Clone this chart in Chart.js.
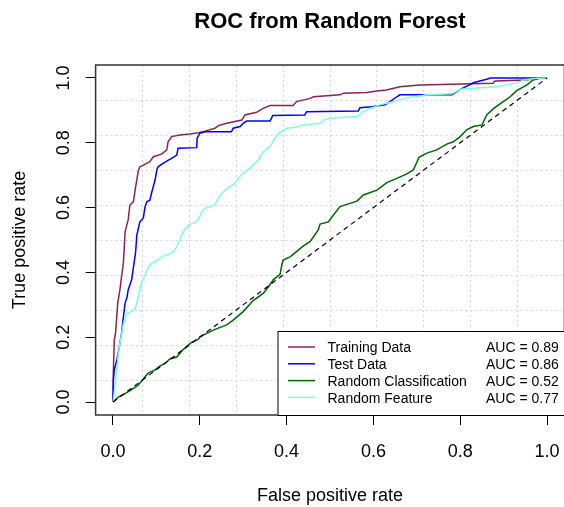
<!DOCTYPE html>
<html>
<head>
<meta charset="utf-8">
<script src="https://cdn.jsdelivr.net/npm/chart.js@4.4.0/dist/chart.umd.min.js"></script>
<style>
  html, body { margin: 0; padding: 0; background: #fff; overflow: hidden; }
  canvas { display: block; }
</style>
</head>
<body>
<canvas id="roc" width="580" height="507"></canvas>
<script>
// ROC curves: false positive rate / true positive rate
const trainFpr = [0, 0.001, 0.003, 0.006, 0.011, 0.016, 0.020, 0.024, 0.028, 0.035, 0.039, 0.047, 0.051, 0.058, 0.062, 0.070, 0.085, 0.093, 0.112, 0.124, 0.127, 0.135, 0.154, 0.177, 0.197, 0.212, 0.235, 0.243, 0.262, 0.297, 0.304, 0.331, 0.346, 0.362, 0.415, 0.423, 0.454, 0.462, 0.523, 0.531, 0.585, 0.608, 0.630, 0.661, 0.707, 0.876, 0.880, 0.953, 0.976, 1];
const trainTpr = [0, 0.099, 0.191, 0.213, 0.306, 0.346, 0.389, 0.429, 0.526, 0.562, 0.608, 0.618, 0.654, 0.711, 0.726, 0.731, 0.742, 0.757, 0.765, 0.778, 0.803, 0.819, 0.824, 0.827, 0.831, 0.836, 0.845, 0.853, 0.860, 0.870, 0.886, 0.894, 0.906, 0.915, 0.915, 0.927, 0.937, 0.942, 0.948, 0.953, 0.955, 0.960, 0.963, 0.973, 0.978, 0.984, 0.991, 0.994, 0.999, 1];

const testFpr = [0, 0.001, 0.003, 0.009, 0.012, 0.020, 0.024, 0.028, 0.032, 0.035, 0.043, 0.047, 0.052, 0.055, 0.062, 0.070, 0.074, 0.078, 0.085, 0.089, 0.093, 0.097, 0.101, 0.104, 0.116, 0.135, 0.147, 0.150, 0.193, 0.194, 0.200, 0.212, 0.273, 0.277, 0.293, 0.300, 0.308, 0.362, 0.368, 0.442, 0.446, 0.565, 0.569, 0.596, 0.627, 0.638, 0.654, 0.661, 0.781, 0.800, 0.819, 0.830, 0.861, 0.869, 1];
const testTpr = [0, 0.068, 0.099, 0.130, 0.151, 0.213, 0.263, 0.306, 0.321, 0.346, 0.377, 0.414, 0.460, 0.515, 0.556, 0.568, 0.603, 0.618, 0.623, 0.645, 0.665, 0.685, 0.716, 0.726, 0.737, 0.752, 0.762, 0.783, 0.785, 0.814, 0.829, 0.834, 0.834, 0.845, 0.850, 0.860, 0.867, 0.867, 0.884, 0.886, 0.896, 0.898, 0.908, 0.911, 0.917, 0.927, 0.942, 0.948, 0.948, 0.965, 0.977, 0.985, 0.996, 1, 1];

const randClassFpr = [0, 0.012, 0.028, 0.044, 0.058, 0.070, 0.081, 0.097, 0.108, 0.120, 0.131, 0.147, 0.158, 0.166, 0.181, 0.197, 0.200, 0.216, 0.231, 0.262, 0.277, 0.300, 0.323, 0.346, 0.358, 0.369, 0.385, 0.389, 0.392, 0.408, 0.423, 0.438, 0.454, 0.473, 0.477, 0.496, 0.508, 0.523, 0.539, 0.562, 0.577, 0.608, 0.631, 0.654, 0.677, 0.692, 0.705, 0.723, 0.746, 0.769, 0.784, 0.800, 0.815, 0.830, 0.850, 0.861, 0.878, 0.899, 0.915, 0.930, 0.953, 0.968, 0.984, 1];
const randClassTpr = [0, 0.015, 0.026, 0.039, 0.052, 0.071, 0.089, 0.099, 0.111, 0.119, 0.133, 0.139, 0.157, 0.167, 0.184, 0.194, 0.201, 0.212, 0.222, 0.238, 0.253, 0.279, 0.313, 0.335, 0.355, 0.377, 0.394, 0.423, 0.438, 0.448, 0.464, 0.481, 0.495, 0.531, 0.549, 0.556, 0.577, 0.603, 0.610, 0.620, 0.639, 0.654, 0.677, 0.690, 0.704, 0.716, 0.755, 0.768, 0.778, 0.796, 0.803, 0.819, 0.840, 0.850, 0.855, 0.886, 0.907, 0.927, 0.942, 0.961, 0.978, 0.994, 0.999, 1];

const randFeatFpr = [0, 0.001, 0.005, 0.009, 0.012, 0.016, 0.020, 0.024, 0.028, 0.032, 0.043, 0.051, 0.055, 0.058, 0.062, 0.066, 0.074, 0.081, 0.089, 0.101, 0.112, 0.124, 0.139, 0.147, 0.154, 0.158, 0.166, 0.174, 0.185, 0.197, 0.204, 0.212, 0.224, 0.235, 0.243, 0.254, 0.270, 0.281, 0.289, 0.300, 0.316, 0.323, 0.335, 0.346, 0.362, 0.373, 0.385, 0.400, 0.415, 0.438, 0.477, 0.485, 0.500, 0.562, 0.577, 0.592, 0.615, 0.638, 0.669, 0.692, 0.723, 0.781, 0.800, 0.830, 0.880, 0.930, 0.947, 0.976, 1];
const randFeatTpr = [0, 0.006, 0.056, 0.099, 0.145, 0.182, 0.210, 0.241, 0.259, 0.273, 0.279, 0.287, 0.306, 0.324, 0.346, 0.370, 0.392, 0.414, 0.429, 0.435, 0.448, 0.454, 0.463, 0.478, 0.500, 0.515, 0.534, 0.546, 0.552, 0.562, 0.586, 0.598, 0.603, 0.608, 0.629, 0.649, 0.665, 0.675, 0.690, 0.706, 0.721, 0.731, 0.747, 0.772, 0.788, 0.815, 0.833, 0.845, 0.847, 0.855, 0.860, 0.870, 0.876, 0.881, 0.896, 0.906, 0.917, 0.924, 0.937, 0.941, 0.948, 0.951, 0.965, 0.968, 0.973, 0.984, 0.994, 0.999, 1];

const chanceFpr = [0, 1];
const chanceTpr = [0, 1];

const seriesNames = ['Training Data', 'Test Data', 'Random Classification', 'Random Feature'];
const aucLabels = ['AUC = 0.89', 'AUC = 0.86', 'AUC = 0.52', 'AUC = 0.77'];
const seriesColors = ['#8B2252', '#0000FF', '#006400', '#7FFFD4'];

const xTicks = [0, 0.2, 0.4, 0.6, 0.8, 1.0];
const yTicks = [0, 0.2, 0.4, 0.6, 0.8, 1.0];
// R grid(): 10 equal cells over the padded axis range
const gridVals = [0.068, 0.176, 0.284, 0.392, 0.5, 0.608, 0.716, 0.824, 0.932];

const toPoints = (xs, ys) => xs.map((x, i) => ({ x: x, y: ys[i] }));

Chart.defaults.font.family = '"Liberation Sans", Arial, sans-serif';
Chart.defaults.color = '#000';

// plot frame
const frameBox = {
    id: 'frameBox',
    afterDatasetsDraw(chart) {
        const { ctx, chartArea: a } = chart;
        ctx.save();
        ctx.strokeStyle = '#333';
        ctx.lineWidth = 1.5;
        ctx.strokeRect(a.left, a.top, a.right - a.left, a.bottom - a.top);
        ctx.restore();
    }
};

// R style legend box in the bottom right corner, with an AUC column
const rocLegend = {
    id: 'rocLegend',
    afterDraw(chart) {
        const { ctx, chartArea: a } = chart;
        const left = 277.5, top = 331;
        ctx.save();
        ctx.fillStyle = '#fff';
        ctx.fillRect(left, top, a.right - left, a.bottom - top);
        ctx.strokeStyle = '#000';
        ctx.lineWidth = 1;
        ctx.strokeRect(left + 0.5, top + 0.5, a.right - left, a.bottom - top);
        ctx.font = '14px "Liberation Sans", Arial, sans-serif';
        ctx.textBaseline = 'middle';
        ctx.textAlign = 'left';
        seriesNames.forEach((name, i) => {
            const y = top + 16 + i * 16.8;
            ctx.strokeStyle = chart.data.datasets[i].borderColor;
            ctx.lineWidth = 1.5;
            ctx.beginPath();
            ctx.moveTo(288, y);
            ctx.lineTo(315, y);
            ctx.stroke();
            ctx.fillStyle = '#000';
            ctx.fillText(name, 327.5, y + 1.5);
            ctx.fillText(aucLabels[i], 486, y + 1.5);
        });
        ctx.restore();
    }
};

function curve(label, xs, ys, color, order) {
    return {
        label: label,
        data: toPoints(xs, ys),
        borderColor: color,
        borderWidth: 1.5,
        pointRadius: 0,
        tension: 0,
        fill: false,
        order: order,
        xAxisID: 'x',
        yAxisID: 'y'
    };
}

const chanceLine = curve('Chance', chanceFpr, chanceTpr, '#000', 0);
chanceLine.borderDash = [5, 4];
chanceLine.borderWidth = 1.2;

new Chart(document.getElementById('roc'), {
    type: 'line',
    data: {
        datasets: [
            curve(seriesNames[0], trainFpr, trainTpr, seriesColors[0], 4),
            curve(seriesNames[1], testFpr, testTpr, seriesColors[1], 3),
            curve(seriesNames[2], randClassFpr, randClassTpr, seriesColors[2], 2),
            curve(seriesNames[3], randFeatFpr, randFeatTpr, seriesColors[3], 1),
            chanceLine
        ]
    },
    options: {
        responsive: false,
        animation: false,
        layout: { padding: { left: 0, right: 15.6, top: 0, bottom: 0 } },
        plugins: {
            legend: { display: false },
            tooltip: { enabled: false },
            title: {
                display: true,
                text: 'ROC from Random Forest',
                fullSize: false,
                color: '#000',
                font: { size: 22, weight: 'bold' },
                padding: { top: 9, bottom: 29.6 }
            }
        },
        scales: {
            x: {
                type: 'linear',
                position: 'bottom',
                min: -0.04,
                max: 1.04,
                bounds: 'data',
                afterBuildTicks: s => { s.ticks = xTicks.map(v => ({ value: v })); },
                afterFit: s => { s.height = 92; },
                grid: { drawOnChartArea: false, tickColor: '#000', tickLength: 10, tickWidth: 1 },
                border: { display: false },
                ticks: { font: { size: 18 }, padding: 16, maxRotation: 0, autoSkip: false, callback: v => v.toFixed(1) },
                title: { display: true, text: 'False positive rate', font: { size: 18 }, padding: { top: 3, bottom: 0 } }
            },
            y: {
                type: 'linear',
                position: 'left',
                min: -0.04,
                max: 1.04,
                bounds: 'data',
                afterBuildTicks: s => { s.ticks = yTicks.map(v => ({ value: v })); },
                afterFit: s => { s.width = 95.6; },
                grid: { drawOnChartArea: false, tickColor: '#000', tickLength: 10, tickWidth: 1 },
                border: { display: false },
                ticks: { font: { size: 18 }, padding: 9, minRotation: 90, maxRotation: 90, crossAlign: 'center', autoSkip: false, callback: v => v.toFixed(1) },
                title: { display: true, text: 'True positive rate', font: { size: 18 }, padding: { top: 9, bottom: 0 } }
            },
            xg: {
                type: 'linear',
                position: 'top',
                min: -0.04,
                max: 1.04,
                bounds: 'data',
                afterBuildTicks: s => { s.ticks = gridVals.map(v => ({ value: v })); },
                afterFit: s => { s.height = 0; },
                ticks: { display: false },
                grid: { color: '#d3d3d3', lineWidth: 1, drawTicks: false },
                border: { display: false, dash: [2, 3] }
            },
            yg: {
                type: 'linear',
                position: 'right',
                min: -0.04,
                max: 1.04,
                bounds: 'data',
                afterBuildTicks: s => { s.ticks = gridVals.map(v => ({ value: v })); },
                afterFit: s => { s.width = 0; },
                ticks: { display: false },
                grid: { color: '#d3d3d3', lineWidth: 1, drawTicks: false },
                border: { display: false, dash: [2, 3] }
            }
        }
    },
    plugins: [frameBox, rocLegend]
});
</script>
</body>
</html>
